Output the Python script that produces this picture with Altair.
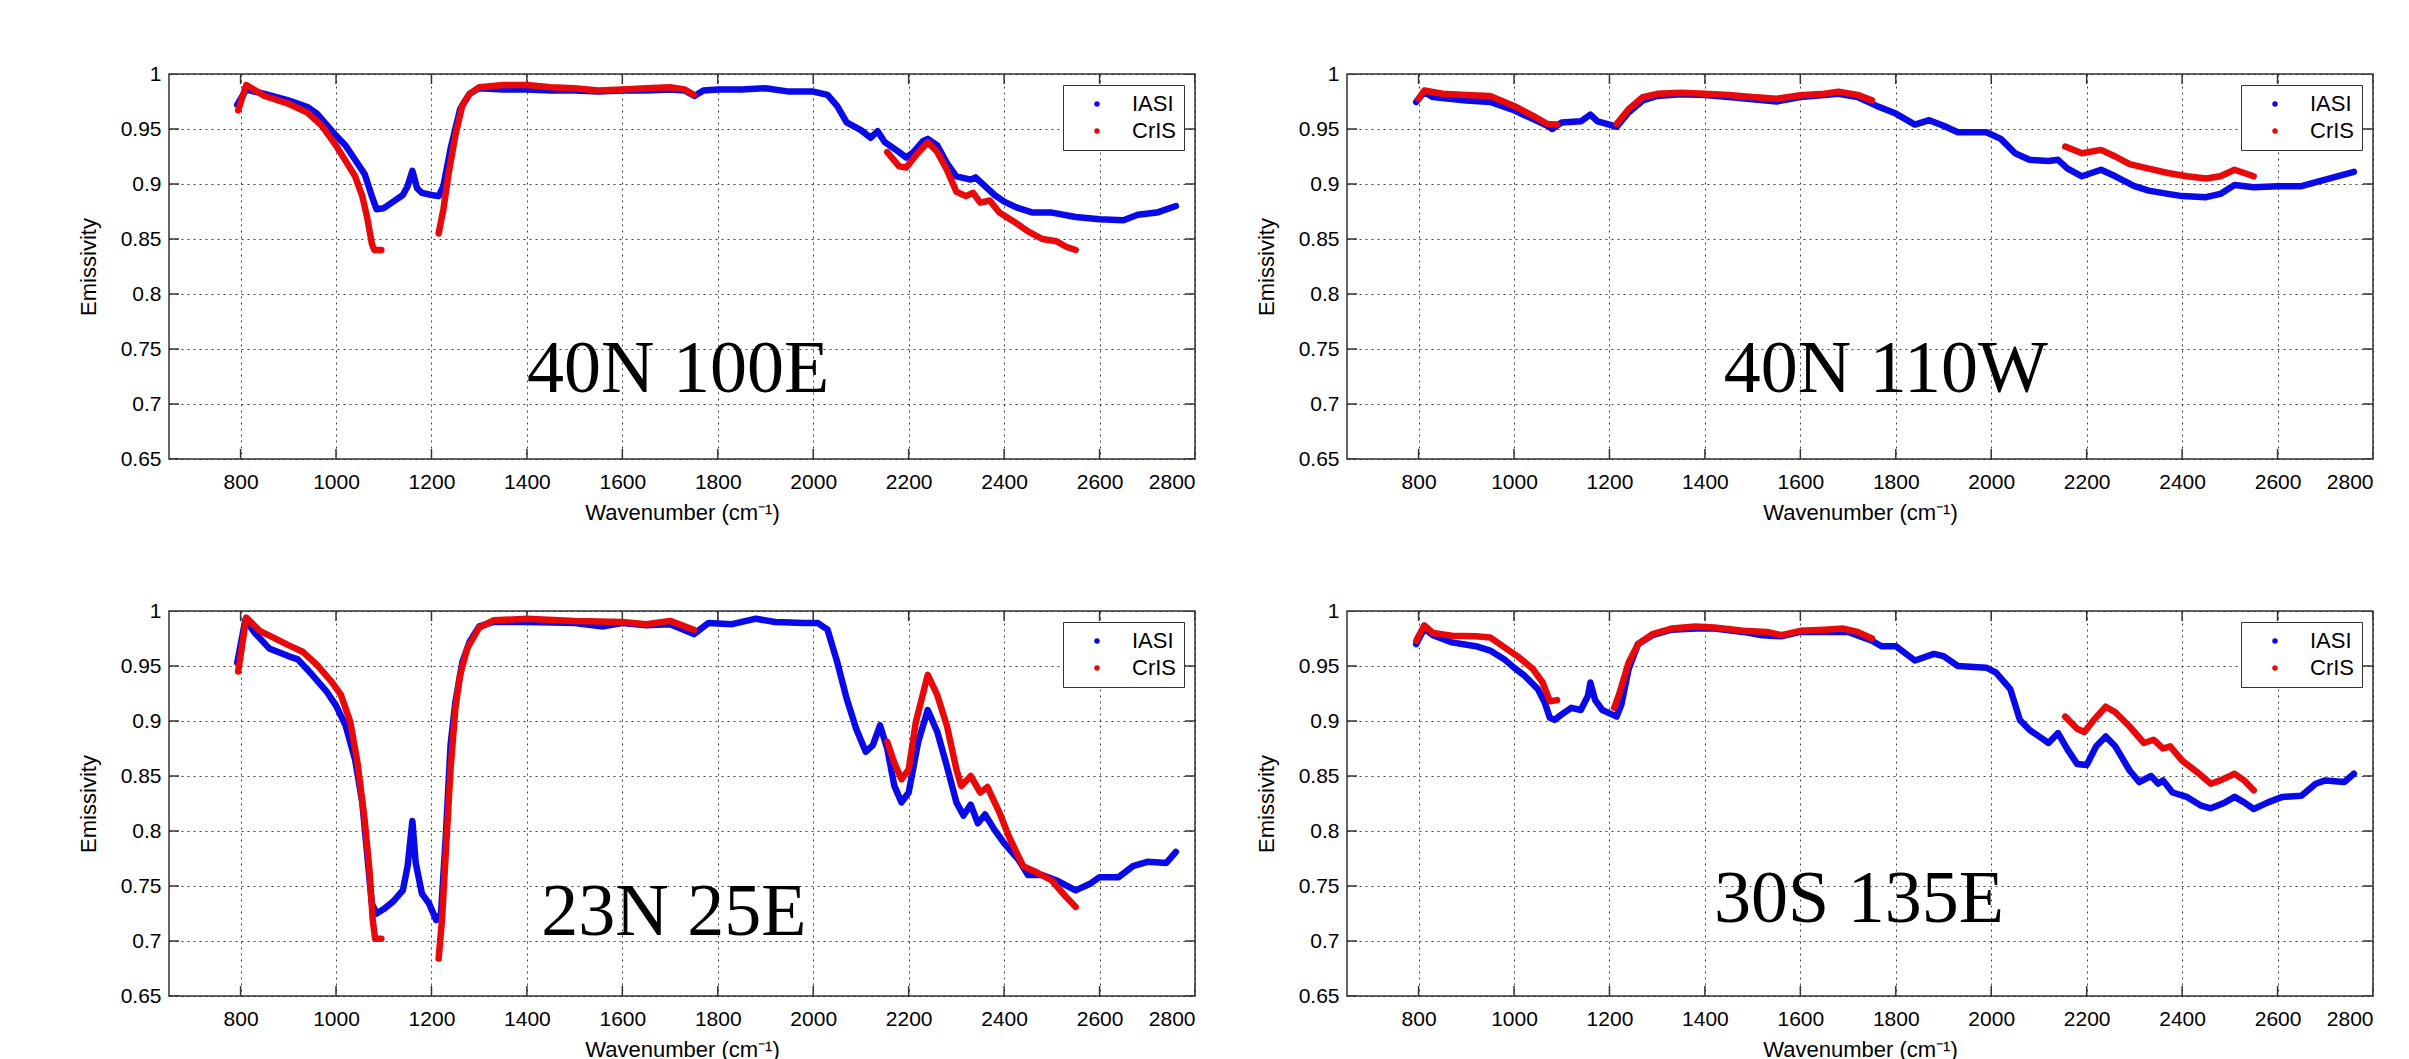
import altair as alt
import pandas as pd

SERIES = ["IASI", "CrIS"]
COLORS = ["#0a0ae8", "#e80a0a"]
X_TICKS = [800, 1000, 1200, 1400, 1600, 1800, 2000, 2200, 2400, 2600, 2800]
Y_TICKS = [0.65, 0.7, 0.75, 0.8, 0.85, 0.9, 0.95, 1.0]
X_DOMAIN = [650, 2800]
Y_DOMAIN = [0.65, 1.0]
PLACES = ["40N 100E", "40N 110W", "23N 25E", "30S 135E"]
LABEL_WN = [1717, 1779, 1708, 1723]
LABEL_E = [0.711, 0.711, 0.7055, 0.7173]

# Panel 1: 40N 100E
P1_IASI = [(793, .972), (812, .986), (820, .985), (850, .982), (900, .976), (940, .970),
           (960, .964), (1000, .944), (1020, .935), (1040, .922), (1060, .909), (1075, .889),
           (1085, .877), (1100, .878), (1120, .884), (1140, .890), (1150, .898), (1160, .912),
           (1170, .896), (1180, .892), (1200, .890), (1215, .889), (1225, .898), (1240, .932),
           (1260, .968), (1280, .982), (1300, .987), (1350, .986), (1400, .986), (1450, .985),
           (1500, .985), (1550, .984), (1600, .985), (1650, .985), (1700, .986), (1730, .985),
           (1751, .980), (1770, .985), (1800, .986), (1850, .986), (1900, .987), (1950, .984),
           (2000, .984), (2030, .981), (2050, .971), (2070, .956), (2100, .949), (2120, .942),
           (2135, .948), (2150, .938), (2180, .929), (2195, .924), (2210, .929), (2230, .939),
           (2240, .941), (2260, .935), (2280, .919), (2300, .907), (2330, .904), (2340, .906),
           (2360, .898), (2380, .890), (2400, .884), (2430, .878), (2460, .874), (2500, .874),
           (2550, .870), (2600, .868), (2650, .867), (2680, .872), (2720, .874), (2760, .880)]
P1_CRIS = [(795, .967), (812, .990), (850, .980), (900, .973), (940, .965), (970, .953),
           (1000, .935), (1020, .921), (1040, .907), (1055, .889), (1065, .870), (1075, .846),
           (1080, .840), (1095, .840),
           (1215, .855), (1225, .877), (1235, .907), (1250, .944), (1265, .972), (1280, .982),
           (1300, .988), (1350, .990), (1400, .990), (1450, .988), (1500, .987), (1550, .985),
           (1600, .986), (1650, .987), (1700, .988), (1730, .986), (1750, .981),
           (2155, .929), (2180, .916), (2195, .915), (2215, .926), (2240, .938), (2260, .929),
           (2280, .913), (2300, .893), (2320, .889), (2335, .892), (2350, .883), (2370, .885),
           (2390, .874), (2420, .866), (2450, .857), (2480, .850), (2510, .848), (2530, .843),
           (2550, .840)]

# Panel 2: 40N 110W
P2_IASI = [(795, .9745), (812, .9837), (830, .979), (900, .976), (950, .9745), (1000, .967),
           (1040, .959), (1070, .953), (1080, .950), (1100, .956), (1140, .957), (1160, .963),
           (1175, .957), (1200, .954), (1215, .952), (1240, .965), (1270, .976), (1300, .980),
           (1350, .9815), (1400, .981), (1450, .979), (1500, .977), (1550, .975), (1600, .979),
           (1650, .981), (1680, .982), (1720, .979), (1760, .971), (1800, .964), (1840, .954),
           (1870, .958), (1900, .953), (1930, .947), (1990, .947), (2020, .941), (2050, .928),
           (2080, .922), (2120, .921), (2140, .922), (2160, .914), (2190, .907), (2210, .910),
           (2230, .913), (2260, .907), (2300, .898), (2330, .894), (2370, .891), (2400, .889),
           (2450, .888), (2480, .891), (2510, .899), (2550, .897), (2600, .898), (2650, .898),
           (2700, .904), (2760, .911)]
P2_CRIS = [(800, .9775), (812, .985), (850, .982), (900, .981), (950, .980), (1000, .971),
           (1040, .962), (1070, .9545), (1090, .954),
           (1215, .9545), (1240, .968), (1270, .979), (1300, .982), (1350, .983), (1400, .982),
           (1450, .981), (1500, .979), (1550, .9775), (1600, .9806), (1650, .982), (1680, .984),
           (1720, .981), (1750, .976),
           (2155, .934), (2190, .928), (2230, .931), (2260, .925), (2290, .918), (2330, .914),
           (2370, .910), (2410, .907), (2450, .905), (2480, .907), (2510, .913), (2530, .910),
           (2550, .907)]

# Panel 3: 23N 25E
P3_IASI = [(793, .953), (810, .992), (830, .980), (860, .966), (900, .959), (920, .956),
           (950, .942), (980, .927), (1000, .914), (1020, .896), (1040, .865), (1055, .826),
           (1065, .780), (1075, .734), (1085, .725), (1100, .729), (1120, .736), (1140, .746),
           (1150, .768), (1160, .809), (1167, .771), (1180, .743), (1195, .734), (1210, .719),
           (1220, .725), (1230, .795), (1240, .878), (1250, .917), (1265, .954), (1280, .972),
           (1300, .986), (1330, .990), (1400, .990), (1500, .989), (1560, .986), (1600, .989),
           (1650, .987), (1700, .988), (1750, .979), (1780, .989), (1830, .988), (1880, .993),
           (1920, .990), (1980, .989), (2010, .989), (2030, .983), (2050, .954), (2070, .9205),
           (2090, .893), (2110, .872), (2125, .878), (2140, .896), (2155, .875), (2170, .841),
           (2185, .826), (2200, .835), (2220, .881), (2240, .910), (2260, .890), (2280, .859),
           (2300, .826), (2315, .814), (2330, .824), (2345, .807), (2360, .815), (2380, .801),
           (2400, .789), (2430, .774), (2450, .760), (2480, .760), (2510, .755), (2550, .746),
           (2580, .752), (2600, .758), (2640, .758), (2670, .768), (2700, .772), (2740, .771),
           (2760, .781)]
P3_CRIS = [(795, .945), (812, .994), (840, .982), (870, .9755), (900, .969), (930, .963),
           (960, .951), (990, .936), (1010, .924), (1030, .899), (1045, .862), (1060, .810),
           (1070, .765), (1077, .719), (1082, .702), (1095, .702),
           (1215, .684), (1222, .719), (1230, .780), (1240, .856), (1250, .911), (1260, .942),
           (1275, .966), (1300, .985), (1330, .9915), (1400, .993), (1500, .991), (1600, .990),
           (1650, .988), (1700, .991), (1750, .983),
           (2155, .881), (2170, .862), (2185, .847), (2200, .856), (2215, .899), (2240, .942),
           (2260, .9235), (2280, .896), (2300, .856), (2310, .841), (2330, .850), (2350, .835),
           (2365, .840), (2390, .817), (2410, .795), (2440, .768), (2470, .762), (2500, .755),
           (2530, .740), (2550, .731)]

# Panel 4: 30S 135E
P4_IASI = [(795, .970), (812, .984), (830, .978), (870, .9715), (920, .968), (950, .964),
           (980, .956), (1000, .9485), (1020, .942), (1050, .929), (1065, .916), (1075, .903),
           (1085, .901), (1100, .906), (1120, .912), (1140, .910), (1155, .923), (1160, .935),
           (1170, .919), (1185, .910), (1205, .906), (1215, .904), (1225, .915), (1240, .947),
           (1260, .970), (1290, .978), (1330, .983), (1380, .984), (1420, .984), (1480, .981),
           (1520, .978), (1560, .977), (1600, .981), (1650, .981), (1700, .981), (1750, .973),
           (1770, .968), (1800, .968), (1840, .955), (1880, .961), (1900, .959), (1930, .950),
           (1990, .9485), (2010, .944), (2040, .929), (2060, .901), (2080, .892), (2110, .883),
           (2120, .880), (2140, .889), (2160, .874), (2180, .861), (2200, .860), (2220, .877),
           (2240, .886), (2260, .877), (2290, .855), (2310, .8445), (2335, .850), (2350, .843),
           (2360, .846), (2380, .835), (2410, .831), (2440, .823), (2460, .8206), (2490, .826),
           (2510, .831), (2530, .826), (2550, .820), (2580, .826), (2610, .831), (2650, .832),
           (2680, .843), (2700, .846), (2740, .8445), (2760, .852)]
P4_CRIS = [(795, .973), (812, .987), (830, .980), (870, .9776), (920, .977), (950, .976),
           (980, .967), (1010, .958), (1040, .947), (1060, .935), (1075, .918), (1090, .919),
           (1210, .912), (1220, .924), (1240, .953), (1260, .970), (1290, .979), (1330, .984),
           (1380, .986), (1420, .985), (1480, .982), (1530, .981), (1560, .978), (1600, .982),
           (1650, .983), (1690, .984), (1720, .981), (1750, .975),
           (2155, .904), (2180, .893), (2195, .890), (2215, .901), (2240, .913), (2260, .908),
           (2290, .895), (2320, .880), (2340, .883), (2360, .875), (2375, .877), (2400, .864),
           (2430, .854), (2460, .843), (2480, .846), (2510, .852), (2530, .846), (2550, .837)]

PANEL_W, PANEL_H = 1026, 385
FONT = "Liberation Sans"
FRAME = "#333333"


def panel(iasi, cris, place, lx, ly):
    rows = [dict(wn=w, e=v, series="IASI", seg="I") for w, v in iasi]
    for w, v in cris:
        seg = "C1" if w < 1150 else ("C2" if w < 2000 else "C3")
        rows.append(dict(wn=w, e=v, series="CrIS", seg=seg))
    df = pd.DataFrame(rows)
    x = alt.X("wn:Q", scale=alt.Scale(domain=X_DOMAIN, nice=False, zero=False),
              axis=alt.Axis(values=X_TICKS, format="d", title="Wavenumber (cm\u207b\u00b9)"))
    y = alt.Y("e:Q", scale=alt.Scale(domain=Y_DOMAIN, nice=False, zero=False),
              axis=alt.Axis(values=Y_TICKS, format="~g", title="Emissivity"))

    # inward tick marks on all four sides (MATLAB style), clipped to the plot box
    xt = pd.DataFrame({"wn": X_TICKS * 2,
                       "e": [Y_DOMAIN[0]] * len(X_TICKS) + [Y_DOMAIN[1]] * len(X_TICKS)})
    yt = pd.DataFrame({"e": Y_TICKS * 2,
                       "wn": [X_DOMAIN[0]] * len(Y_TICKS) + [X_DOMAIN[1]] * len(Y_TICKS)})
    xticks = alt.Chart(xt).mark_tick(orient="vertical", size=20, thickness=1.5,
                                     color=FRAME, clip=True, opacity=1).encode(x=x, y=y)
    yticks = alt.Chart(yt).mark_tick(orient="horizontal", size=20, thickness=1.5,
                                     color=FRAME, clip=True, opacity=1).encode(x=x, y=y)

    base = alt.Chart(df)
    dots = base.mark_circle(size=8, opacity=1).encode(
        x=x, y=y,
        fill=alt.Fill("series:N", scale=alt.Scale(domain=SERIES, range=COLORS),
                      legend=alt.Legend(title=None, orient="top-right", offset=11, padding=8,
                                        rowPadding=5, symbolType="circle", symbolSize=30,
                                        symbolOffset=15, labelOffset=24, labelFontSize=22,
                                        labelFont=FONT, labelColor="black",
                                        strokeColor=FRAME, fillColor="white",
                                        symbolStrokeWidth=0, cornerRadius=0)),
    )
    stroke = alt.Stroke("series:N", scale=alt.Scale(domain=SERIES, range=COLORS), legend=None)
    blue = base.transform_filter(alt.datum.series == "IASI").mark_line(
        strokeWidth=6.5, strokeCap="round", strokeJoin="round").encode(
        x=x, y=y, stroke=stroke, detail="seg:N")
    red = base.transform_filter(alt.datum.series == "CrIS").mark_line(
        strokeWidth=6.5, strokeCap="round", strokeJoin="round").encode(
        x=x, y=y, stroke=stroke, detail="seg:N")
    lab = alt.Chart(pd.DataFrame({"wn": [lx], "e": [ly], "t": [place]})).mark_text(
        font="Liberation Serif", fontSize=74, align="center", baseline="alphabetic",
        color="black").encode(x=x, y=y, text="t:N")
    return alt.layer(xticks, yticks, dots, blue, red, lab).properties(
        width=PANEL_W, height=PANEL_H)


p1 = panel(P1_IASI, P1_CRIS, PLACES[0], LABEL_WN[0], LABEL_E[0])
p2 = panel(P2_IASI, P2_CRIS, PLACES[1], LABEL_WN[1], LABEL_E[1])
p3 = panel(P3_IASI, P3_CRIS, PLACES[2], LABEL_WN[2], LABEL_E[2])
p4 = panel(P4_IASI, P4_CRIS, PLACES[3], LABEL_WN[3], LABEL_E[3])

chart = alt.concat(p1, p2, p3, p4, columns=2, spacing=152, bounds="flush").resolve_scale(
    fill="independent", stroke="independent").resolve_legend(fill="independent").properties(
    padding={"left": 76, "top": 62, "right": 10, "bottom": 5}, background="white"
).configure_view(stroke=FRAME, strokeWidth=1.5).configure_axis(
    grid=True, gridColor="#222222", gridDash=[2, 4], gridWidth=1, gridOpacity=0.85,
    domain=False, ticks=False, tickSize=0,
    labelFont=FONT, labelFontSize=21, labelColor="black",
    titleFont=FONT, titleFontSize=22, titleFontWeight="normal", titleColor="black",
).configure_axisX(labelPadding=12, titlePadding=10).configure_axisY(
    labelPadding=8, titlePadding=20)

chart.save("out.html", embed_options={"renderer": "svg", "actions": False})
